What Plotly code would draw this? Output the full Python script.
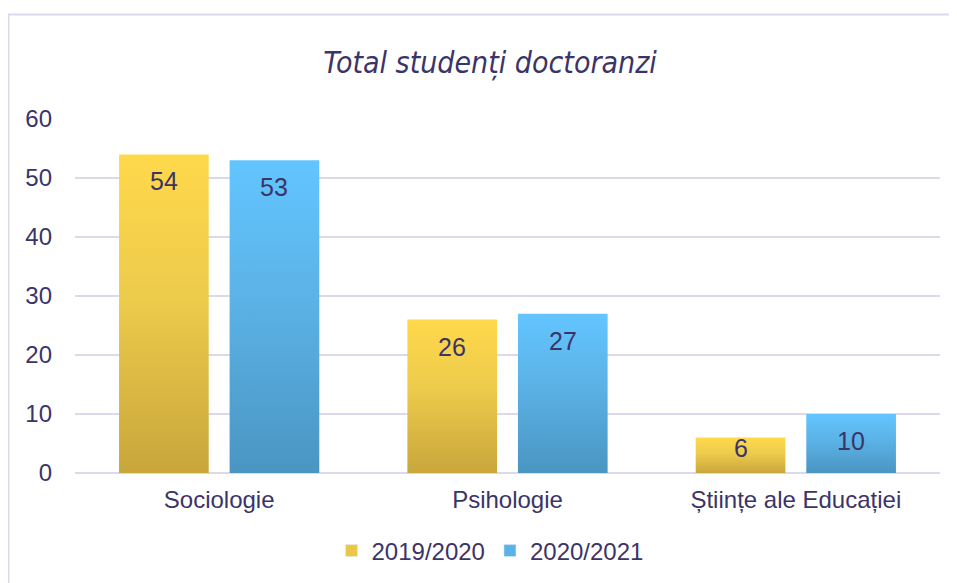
import plotly.graph_objects as go

categories = ['Sociologie', 'Psihologie', 'Științe ale Educației']
series_names = ['2019/2020', '2020/2021']
values_2019 = [54, 26, 6]
values_2020 = [53, 27, 10]

TEXT_COLOR = '#3B3468'
GRID_COLOR = '#DCD9EC'

# gradient per series: bottom -> top
gradients = [
    [[0, '#C9A63B'], [0.55, '#EDCB4B'], [1, '#FFD94B']],
    [[0, '#4A95C2'], [0.55, '#5BB2E6'], [1, '#63C5FF']],
]
legend_colors = ['#E9C847', '#5AB3E8']

bar_w = 0.311
gap = 0.0725
offsets = [-(bar_w + gap) / 2, (bar_w + gap) / 2]

# page body has an 8px margin, so the figure is shifted; margins compensate
ML, MR, MT, MB = 67, 25, 111, 118
plot_w = 957 - ML - MR
plot_h = 583 - MT - MB

fig = go.Figure()

for s, (name, vals) in enumerate(zip(series_names, [values_2019, values_2020])):
    for i, v in enumerate(vals):
        xc = i + offsets[s]
        x0, x1 = xc - bar_w / 2, xc + bar_w / 2
        fig.add_trace(go.Scatter(
            x=[x0, x1, x1, x0, x0], y=[0, 0, v, v, 0],
            mode='lines', fill='toself', line=dict(width=0),
            fillgradient=dict(type='vertical', colorscale=gradients[s]),
            showlegend=False, hoverinfo='skip'))
    # legend-only bar trace
    fig.add_trace(go.Bar(x=[None], y=[None], name=name,
                         marker=dict(color=legend_colors[s])))

# value labels inside bar tops
px_per_unit = plot_h / 60
for s, vals in enumerate([values_2019, values_2020]):
    for i, v in enumerate(vals):
        fig.add_annotation(x=i + offsets[s], y=v, text=str(v), showarrow=False,
                           yanchor='middle', yshift=-min(27, v * px_per_unit - 25),
                           font=dict(family='Liberation Sans', size=25, color=TEXT_COLOR))

# outer border (left and top visible)
fig.add_shape(type='rect', xref='paper', yref='paper',
              x0=(0.5 - ML) / plot_w, x1=(990 - ML) / plot_w,
              y0=-0.5, y1=(583 - MB - 6.5) / plot_h,
              line=dict(color='#DCD8EE', width=2), fillcolor='rgba(0,0,0,0)', layer='below')

fig.update_layout(
    width=957, height=583,
    margin=dict(l=ML, r=MR, t=MT, b=MB),
    paper_bgcolor='white', plot_bgcolor='white',
    title=dict(text='<i>Total studenți doctoranzi</i>', x=(490 - 8) / 957, xanchor='center',
               y=1 - 54 / 583, yanchor='middle', yref='container',
               font=dict(family='Liberation Sans Narrow, DejaVu Sans Condensed, Roboto Condensed, sans-serif',
                         size=30, color=TEXT_COLOR)),
    font=dict(family='Liberation Sans', size=24, color=TEXT_COLOR),
    showlegend=True,
    legend=dict(orientation='h', x=(490 - ML - 8) / plot_w, xanchor='center',
                y=-(543 - 465) / plot_h, yanchor='middle',
                font=dict(size=24, color=TEXT_COLOR), itemwidth=30),
)
fig.update_xaxes(range=[-0.5, 2.5], tickvals=[0, 1, 2], ticktext=categories,
                 showgrid=False, zeroline=False, showline=False,
                 tickfont=dict(size=24, color=TEXT_COLOR), ticklabelstandoff=10)
fig.update_yaxes(range=[0, 60], dtick=10, showgrid=True, gridcolor=GRID_COLOR, gridwidth=2,
                 zeroline=True, zerolinecolor=GRID_COLOR, zerolinewidth=2,
                 tickfont=dict(size=24, color=TEXT_COLOR), ticklabelstandoff=22)

fig.write_html('out.html')
